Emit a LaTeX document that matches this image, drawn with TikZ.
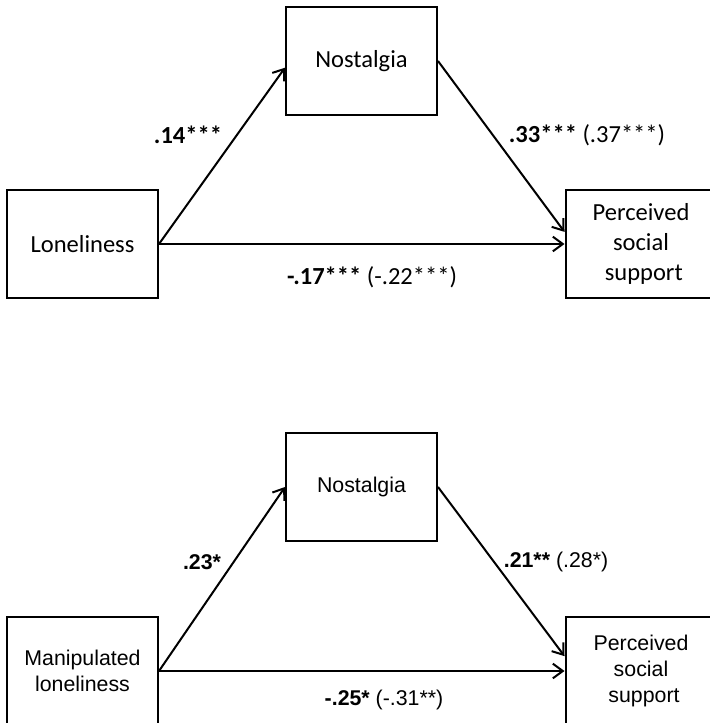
\documentclass[tikz,border=0pt]{standalone}
\usepackage{fontspec}
\newfontfamily\calibrifont{Carlito}
\newfontfamily\arialfont{Liberation Sans}
\usetikzlibrary{arrows.meta}

\tikzset{every picture/.style={line width=1.5pt}}
\tikzset{
  varbox/.style={draw, minimum width=113.25pt, minimum height=81pt, inner sep=0.75pt, align=center},
  patharrow/.style={-{Straight Barb[length=7.5pt,width=11pt]}},
  upperfont/.style={font=\calibrifont\fontsize{18.4}{22.8}\selectfont},
  lowerfont/.style={font=\arialfont\fontsize{16}{19.2}\selectfont}
}

\begin{document}
\begin{tikzpicture}[x=0.75pt,y=0.75pt,yscale=-1,xscale=1]
\useasboundingbox (0,0) rectangle (709,723);

% Upper model
%Shape: Rectangle
\node [varbox, upperfont] (lone1) at (82.5,244) {Loneliness};
%Shape: Rectangle
\node [varbox, upperfont] (nost1) at (361.5,61) {Nostalgia};
%Shape: Rectangle
\node [varbox, upperfont] (perc1) at (641,244) {Perceived\\social\\\ support};
%Straight Lines
\draw [patharrow] (lone1.east) -- (nost1.185);
\draw [patharrow] (nost1.east) -- (perc1.171);
\draw [patharrow] (lone1.east) -- (perc1.west);

% Text Node
\draw (188,135) node [inner sep=0.75pt] [upperfont] (coefa1) {\textbf{.14***}};
% Text Node
\draw (587,135) node [inner sep=0.75pt] [upperfont] (coefb1) {\textbf{.33***} (.37***)};
% Text Node
\draw (372,277) node [inner sep=0.75pt] [upperfont] (coefc1) {\textbf{-.17***} (-.22***)};

% Lower model
%Shape: Rectangle
\node [varbox, lowerfont] (lone2) at (82.5,671) {Manipulated\\loneliness};
%Shape: Rectangle
\node [varbox, lowerfont] (nost2) at (361.5,487) {Nostalgia};
%Shape: Rectangle
\node [varbox, lowerfont] (perc2) at (641,671) {Perceived\\social\\\ support};
%Straight Lines
\draw [patharrow] (lone2.east) -- (nost2.west);
\draw [patharrow] (nost2.east) -- (perc2.169);
\draw [patharrow] (lone2.east) -- (perc2.west);

% Text Node
\draw (202,562) node [inner sep=0.75pt] [lowerfont] (coefa2) {\textbf{.23*}};
% Text Node
\draw (556,562) node [inner sep=0.75pt] [lowerfont] (coefb2) {\textbf{.21**} (.28*)};
% Text Node
\draw (384,700) node [inner sep=0.75pt] [lowerfont] (coefc2) {\textbf{-.25*} (-.31**)};

\end{tikzpicture}
\end{document}
